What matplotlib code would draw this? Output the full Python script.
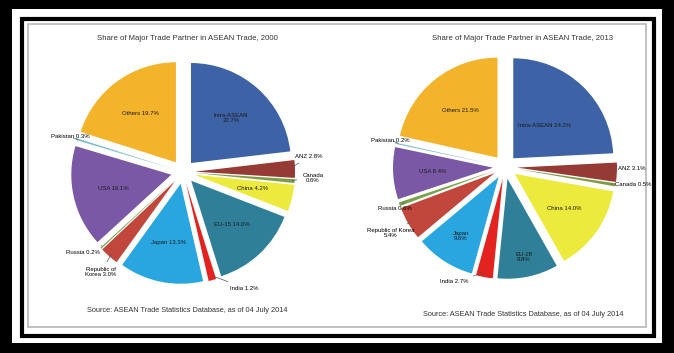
import numpy as np
import matplotlib.pyplot as plt
from matplotlib.patches import Rectangle

W, H = 674, 353

partners = ['ASEAN', 'ANZ', 'Canada', 'China', 'EU', 'India', 'Japan',
            'Korea', 'Russia', 'USA', 'Pakistan', 'Others']
share_2000 = [22.7, 2.8, 0.6, 4.2, 14.0, 1.2, 13.3, 3.0, 0.2, 16.1, 0.3, 19.7]
share_2013 = [24.2, 3.1, 0.5, 14.0, 9.8, 2.7, 9.6, 5.4, 0.6, 8.4, 0.2, 21.5]

labels_2000 = ['Intra-ASEAN\n22.7%', 'ANZ 2.8%', 'Canada\n0.6%', 'China 4.2%',
               'EU-15 14.0%', 'India 1.2%', 'Japan 13.3%', 'Republic of\nKorea 3.0%',
               'Russia 0.2%', 'USA 16.1%', 'Pakistan 0.3%', 'Others 19.7%']
labels_2013 = ['Intra-ASEAN 24.2%', 'ANZ 3.1%', 'Canada 0.5%', 'China 14.0%',
               'EU-28\n9.8%', 'India 2.7%', 'Japan\n9.6%', 'Republic of Korea\n5.4%',
               'Russia 0.6%', 'USA 8.4%', 'Pakistan 0.2%', 'Others 21.5%']

colors = ['#3d63a6', '#953a35', '#7f9c45', '#ecea3c', '#2f7f98', '#e3231f',
          '#29a6df', '#c1463c', '#77a24c', '#7a58a6', '#7bbccb', '#f3b32a']

# small slices get an outside label: (text x, text y, ha) in pie units
outside_2000 = {'ANZ': (1.12, 0.16, 'left'), 'Canada': (1.3, -0.06, 'center'),
                'India': (0.47, -1.16, 'left'), 'Korea': (-0.82, -1.0, 'center'),
                'Russia': (-0.83, -0.80, 'right'), 'Pakistan': (-0.93, 0.35, 'right')}
outside_2013 = {'ANZ': (1.13, -0.02, 'left'), 'Canada': (1.1, -0.17, 'left'),
                'India': (-0.37, -1.15, 'right'), 'Korea': (-1.14, -0.66, 'center'),
                'Russia': (-0.93, -0.42, 'right'), 'Pakistan': (-0.95, 0.27, 'right')}
# label distance from centre for inside labels (default 0.6)
inside_r_2013 = {'ASEAN': 0.45, 'EU': 0.8, 'Japan': 0.7}

plt.rcParams['font.family'] = ['Liberation Sans', 'DejaVu Sans']

fig = plt.figure(figsize=(W / 100, H / 100), dpi=100)
fig.patch.set_facecolor('black')

# white page with inner frame
bg = fig.add_axes([0, 0, 1, 1])
bg.set_xlim(0, W)
bg.set_ylim(H, 0)
bg.axis('off')
bg.add_patch(Rectangle((12, 9), W - 24, H - 19, facecolor='white', edgecolor='none'))
bg.add_patch(Rectangle((22, 19), W - 42, H - 36, facecolor='white', edgecolor='black', lw=3))
bg.add_patch(Rectangle((28, 24), W - 56, H - 50, facecolor='none', edgecolor='#b8b8b8', lw=1.2))


def draw_pie(cx, cy, values, labels, outside, inside_r, title, title_x, src_y):
    R = 150
    ax = fig.add_axes([(cx - R) / W, (H - cy - R) / H, 2 * R / W, 2 * R / H])
    explode = [0.12] * len(values)
    wedges, _ = ax.pie(values, colors=colors, startangle=90, counterclock=False,
                       explode=explode, radius=1.0,
                       wedgeprops=dict(edgecolor='none'))
    ax.set_xlim(-1.5, 1.5)
    ax.set_ylim(-1.5, 1.5)
    ax.set_aspect('equal')
    ax.axis('off')
    for name, w, lab in zip(partners, wedges, labels):
        mid = np.deg2rad((w.theta1 + w.theta2) / 2)
        ox, oy = w.center
        if name in outside:
            tx, ty, ha = outside[name]
            px, py = ox + 0.95 * np.cos(mid), oy + 0.95 * np.sin(mid)
            ax.annotate(lab, xy=(px, py), xytext=(tx, ty), ha=ha, va='center',
                        fontsize=4.3, linespacing=1.0,
                        arrowprops=dict(arrowstyle='-', color='#555555', lw=0.5))
        else:
            r = inside_r.get(name, 0.6)
            ax.text(ox + r * np.cos(mid), oy + r * np.sin(mid), lab, ha='center',
                    va='center', fontsize=4.3, linespacing=1.0, color='#1a1a1a')
    fig.text(title_x / W, 1 - 38 / H, title, ha='center', va='center', fontsize=5.6,
             color='#333333')
    fig.text(title_x / W, 1 - src_y / H,
             'Source: ASEAN Trade Statistics Database, as of 04 July 2014',
             ha='center', va='center', fontsize=5.3, color='#333333')


draw_pie(183, 172, share_2000, labels_2000, outside_2000, {},
         'Share of Major Trade Partner in ASEAN Trade, 2000', 187, 310)
draw_pie(505, 167, share_2013, labels_2013, outside_2013, inside_r_2013,
         'Share of Major Trade Partner in ASEAN Trade, 2013', 523, 315)

fig.savefig('out.png', dpi=100, facecolor=fig.get_facecolor())
